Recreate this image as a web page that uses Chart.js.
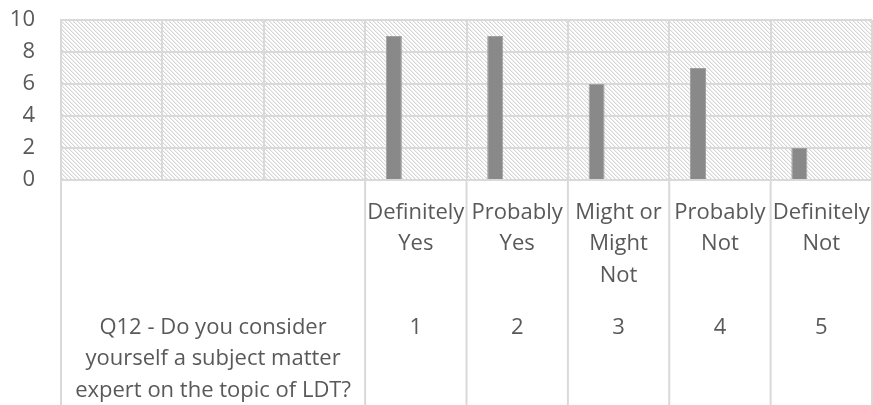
<!DOCTYPE html>
<html>
<head>
<meta charset="utf-8">
<script src="https://cdn.jsdelivr.net/npm/chart.js@4/dist/chart.umd.min.js"></script>
<style>
  html, body { margin: 0; padding: 0; background: #fff; }
  #wrap { width: 873px; height: 405px; }
</style>
</head>
<body>
<div id="wrap"><canvas id="q12Chart"></canvas></div>
<script>
// answer labels (upper row of the category table)
const answerLabels = [[""], [""], [""], ["Definitely", "Yes"], ["Probably", "Yes"], ["Might or", "Might", "Not"], ["Probably", "Not"], ["Definitely", "Not"]];
// code labels (lower row), question text sits over the first three blank columns
const codeLabels = ["", ["Q12 - Do you consider", "yourself a subject matter", "expert on the topic of LDT?"], "", "1", "2", "3", "4", "5"];
const counts = [null, null, null, 9, 9, 6, 7, 2];
const blankSeries = [null, null, null, null, null, null, null, null];
const yTicks = [0, 2, 4, 6, 8, 10];

const gridColor = "#d9d9d9";
const textColor = "#595959";
const fontFamily = "'Open Sans', sans-serif";

function makeHatch() {
    const c = document.createElement("canvas");
    c.width = 4; c.height = 4;
    const g = c.getContext("2d");
    g.fillStyle = "#ffffff";
    g.fillRect(0, 0, 4, 4);
    for (let i = 0; i < 4; i++) {
        g.fillStyle = "#d6d6d6";
        g.fillRect(i, i, 1, 1);
        g.fillStyle = "#eeeeee";
        g.fillRect((i + 1) % 4, i, 1, 1);
    }
    return c;
}

// hatched plot background + table lines under the plot
const tablePlugin = {
    id: "tableLines",
    beforeDraw(chart) {
        const { ctx, chartArea } = chart;
        ctx.save();
        ctx.fillStyle = ctx.createPattern(makeHatch(), "repeat");
        ctx.fillRect(chartArea.left, chartArea.top, chartArea.right - chartArea.left, chartArea.bottom - chartArea.top);
        ctx.restore();
    },
    afterDraw(chart) {
        const { ctx, chartArea } = chart;
        const x = chart.scales.x;
        const step = (chartArea.right - chartArea.left) / answerLabels.length;
        ctx.save();
        ctx.strokeStyle = gridColor;
        ctx.lineWidth = 2;
        [0, 3, 4, 5, 6, 7, 8].forEach(i => {
            const px = i < answerLabels.length ? x.getPixelForTick(i) - step / 2 : x.getPixelForTick(i - 1) + step / 2;
            ctx.beginPath();
            ctx.moveTo(px, chartArea.bottom);
            ctx.lineTo(px, chart.height);
            ctx.stroke();
        });
        ctx.restore();
    }
};

const tickFont = { family: fontFamily, size: 22, lineHeight: 1.43 };
const noPad = s => { s.paddingLeft = 0; s.paddingRight = 0; s.paddingTop = 0; s.paddingBottom = 0; };

const ctx = document.getElementById("q12Chart").getContext("2d");
new Chart(ctx, {
    type: "bar",
    data: {
        labels: answerLabels,
        datasets: [
            { label: "Count", data: counts, backgroundColor: "#898989", borderColor: "#a0a0a0", borderWidth: 1 },
            { label: "", data: blankSeries, backgroundColor: "#898989" },
            { label: " ", data: blankSeries, backgroundColor: "#898989" }
        ]
    },
    options: {
        responsive: true,
        maintainAspectRatio: false,
        animation: false,
        categoryPercentage: 0.65,
        barPercentage: 0.73,
        layout: { padding: { top: 20, left: 0, right: 1, bottom: 0 } },
        scales: {
            x: {
                offset: true,
                grid: { offset: true, color: gridColor, lineWidth: 2, drawTicks: false },
                border: { color: gridColor, width: 2 },
                ticks: { autoSkip: false, maxRotation: 0, minRotation: 0, padding: 17, color: textColor, font: tickFont },
                afterFit: s => { s.height = 112; noPad(s); }
            },
            x2: {
                type: "category",
                position: "bottom",
                labels: codeLabels,
                offset: true,
                grid: { display: false, drawTicks: false },
                border: { display: false },
                ticks: { autoSkip: false, maxRotation: 0, minRotation: 0, padding: 20, color: textColor, font: tickFont },
                afterFit: s => { s.height = 113; noPad(s); }
            },
            y: {
                min: 0,
                max: 10,
                afterBuildTicks: axis => { axis.ticks = yTicks.map(v => ({ value: v })); },
                grid: { color: gridColor, lineWidth: 2, drawTicks: false },
                border: { color: gridColor, width: 2 },
                ticks: { autoSkip: false, padding: 26, color: textColor, font: { family: fontFamily, size: 22 } },
                afterFit: s => { s.width = 61; noPad(s); }
            }
        },
        plugins: {
            legend: { display: false },
            tooltip: { enabled: false }
        }
    },
    plugins: [tablePlugin]
});
</script>
</body>
</html>
